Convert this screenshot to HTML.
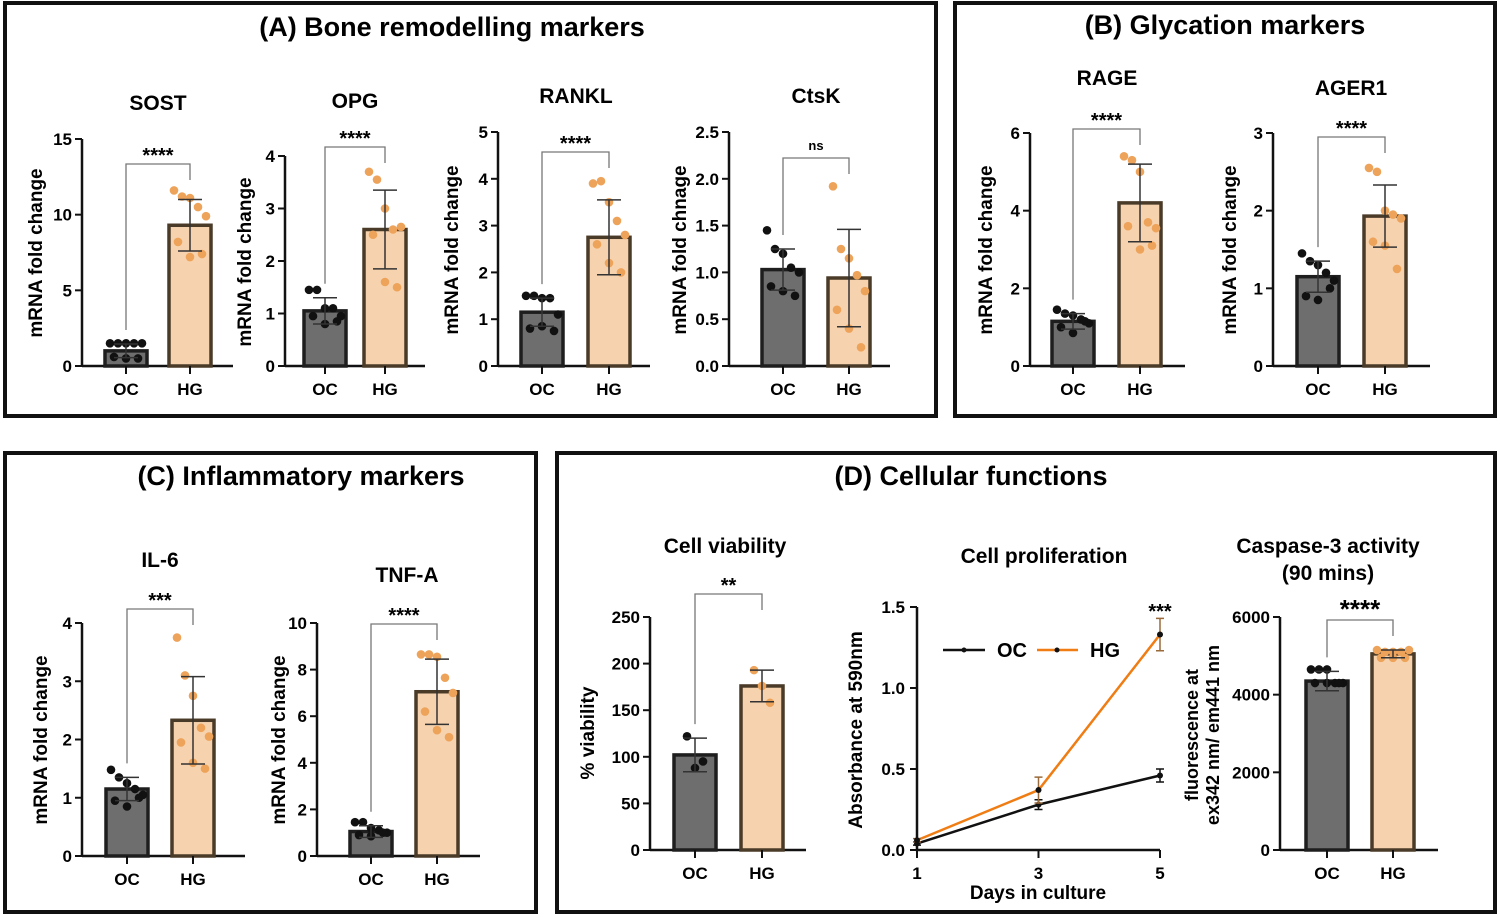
<!DOCTYPE html>
<html><head><meta charset="utf-8"><style>
body{margin:0;background:#fff;}
svg{display:block;font-family:"Liberation Sans",Arial,sans-serif;font-weight:bold;}
text{font-weight:bold;}
</style></head><body>
<svg id="fig" width="1500" height="918" viewBox="0 0 1500 918">
<rect x="5" y="3" width="931" height="413" fill="none" stroke="#111" stroke-width="4"/>
<rect x="955" y="3" width="540" height="413" fill="none" stroke="#111" stroke-width="4"/>
<rect x="5" y="453" width="531" height="459" fill="none" stroke="#111" stroke-width="4"/>
<rect x="557" y="453" width="938" height="459" fill="none" stroke="#111" stroke-width="4"/>
<text x="452" y="36" font-size="27" text-anchor="middle">(A) Bone remodelling markers</text>
<text x="1225" y="34" font-size="27" text-anchor="middle">(B) Glycation markers</text>
<text x="301" y="485" font-size="27" text-anchor="middle">(C) Inflammatory  markers</text>
<text x="971" y="485" font-size="27" text-anchor="middle">(D) Cellular functions</text>
</svg>
<script>
const NS="http://www.w3.org/2000/svg";
const svg=document.getElementById('fig');
function mk(tag,attrs,parent){const e=document.createElementNS(NS,tag);for(const k in attrs)e.setAttribute(k,attrs[k]);(parent||svg).appendChild(e);return e;}

// ---- data ----
const groups=["OC","HG"];
const sostMeans=[1.0,9.3], sostSD=[0.45,1.7];
const sostOC=[1.5,1.5,1.5,1.5,1.5,0.6,0.5,0.5], sostHG=[11.6,11.2,11.1,10.5,9.9,8.2,7.2,7.4];
const opgMeans=[1.05,2.6], opgSD=[0.25,0.75];
const opgOC=[1.45,1.45,1.1,1.1,0.95,0.95,0.8,0.85], opgHG=[3.7,3.55,3.0,2.6,2.65,2.5,1.6,1.5];
const ranklMeans=[1.15,2.75], ranklSD=[0.3,0.8];
const ranklOC=[1.5,1.5,1.45,1.45,1.1,0.8,0.85,0.75], ranklHG=[3.9,3.95,3.5,3.1,2.8,2.6,2.2,2.0];
const ctskMeans=[1.03,0.94], ctskSD=[0.22,0.52];
const ctskOC=[1.45,1.25,1.2,1.05,1.0,0.85,0.8,0.75], ctskHG=[1.92,1.25,1.15,0.97,0.8,0.6,0.4,0.2];
const rageMeans=[1.15,4.2], rageSD=[0.2,1.0];
const rageOC=[1.45,1.35,1.3,1.2,1.1,1.0,0.85,1.15], rageHG=[5.4,5.3,5.0,3.7,3.55,3.6,3.0,3.1];
const ager1Means=[1.15,1.93], ager1SD=[0.2,0.4];
const ager1OC=[1.45,1.35,1.3,1.2,1.1,0.9,0.85,1.0], ager1HG=[2.55,2.5,2.0,1.95,1.9,1.6,1.55,1.25];
const il6Means=[1.15,2.33], il6SD=[0.2,0.75];
const il6OC=[1.48,1.35,1.25,1.15,1.05,0.95,0.85,1.0], il6HG=[3.75,3.1,2.75,2.2,2.05,1.95,1.6,1.5];
const tnfMeans=[1.05,7.05], tnfSD=[0.25,1.4];
const tnfOC=[1.45,1.45,1.2,1.1,1.0,0.9,0.85,1.0], tnfHG=[8.65,8.65,8.55,7.65,7.0,6.2,5.4,5.1];
const viabMeans=[102,176], viabSD=[18,17];
const viabOC=[122,88,95], viabHG=[193,176,158];
const caspMeans=[4350,5050], caspSD=[250,100];
const caspOC=[4650,4650,4650,4300,4300,4300,4300,4300], caspHG=[5150,5100,5100,5100,5150,4950,4950,4950];
const days=[1,3,5];
const ocLine=[0.04,0.28,0.46], ocErr=[0.01,0.03,0.04];
const hgLine=[0.06,0.37,1.33], hgErr=[0.01,0.08,0.1];
const absTicks=[0,0.5,1.0,1.5], absTickLabels=["0.0","0.5","1.0","1.5"];

const jit=[-16,-8,0,8,16,-12,0,12];
function bar(c){
  const g=mk('g',{});
  
  
  const y=v=>c.y0-(v-c.min)/(c.max-c.min)*(c.y0-c.yTop);
  const xs=[c.cx0,c.cx1];const bw=c.bw||42;
  const ya=mk('line',{x1:c.ax,y1:c.y0,x2:c.ax,y2:c.yTop,stroke:'#111','stroke-width':2.5},g);
  
  const xa=mk('line',{x1:c.ax,y1:c.y0,x2:c.axEnd,y2:c.y0,stroke:'#111','stroke-width':2.5},g);
  
  c.ticks.forEach((t,i)=>{
    mk('line',{x1:c.ax-7,y1:y(t),x2:c.ax,y2:y(t),stroke:'#111','stroke-width':2},g);
    const tx=mk('text',{x:c.ax-10,y:y(t)+6,'font-size':17,'text-anchor':'end'},g);
    tx.textContent=c.tickLabels?c.tickLabels[i]:t;
    
  });
  groups.forEach((gname,i)=>{
    const m=c.means[i];
    const r=mk('rect',{x:xs[i]-bw/2,y:y(m),width:bw,height:c.y0-y(m),fill:i?'#f6d3ae':'#6e6e6e',stroke:i?'#4a3a28':'#1e1e1e','stroke-width':3.5},g);
    
    const pts=i?c.hg:c.oc;
    pts.forEach((p,j)=>{
      const d=mk('circle',{cx:xs[i]+(pts.length<5?[-8,0,8][j]:jit[j]),cy:y(p),r:4.3,fill:i?'#eea35a':'#111'},g);
      
    });
    const sd=c.sd[i];
    const e=mk('path',{d:`M${xs[i]},${y(m-sd)}V${y(m+sd)}M${xs[i]-12},${y(m+sd)}H${xs[i]+12}M${xs[i]-12},${y(m-sd)}H${xs[i]+12}`,stroke:'#333','stroke-width':1.5,fill:'none'},g);
    
    mk('line',{x1:xs[i],y1:c.y0,x2:xs[i],y2:c.y0+8,stroke:'#111','stroke-width':2},g);
    const xl=mk('text',{x:xs[i],y:c.y0+29,'font-size':17,'text-anchor':'middle'},g);
    xl.textContent=gname;
  });
  const br=mk('path',{d:`M${xs[0]},${y(c.means[0]+c.sd[0])-14}V${c.br}H${xs[1]}V${c.br+16}`,stroke:'#777','stroke-width':1.3,fill:'none'},g);
  
  const s=mk('text',{x:(xs[0]+xs[1])/2,y:c.br-(c.sig=='ns'?8:2),'font-size':c.sig=='ns'?13:(c.sigSize||20),'text-anchor':'middle'},g);
  if(c.sig=='ns')s.setAttribute('font-weight','normal');
  s.textContent=c.sig;
  const t=mk('text',{x:c.tx,y:c.ty,'font-size':21,'text-anchor':'middle'},g);
  t.textContent=c.title;
  if(c.title2){const t2=mk('text',{x:c.tx,y:c.ty+27,'font-size':21,'text-anchor':'middle'},g);t2.textContent=c.title2;}
  c.ylab.forEach((l,k)=>{
    const lx=c.lx+k*21;
    const a=mk('text',{x:lx,y:c.ly,'font-size':c.ylabSize||19,'text-anchor':'middle',transform:`rotate(-90 ${lx} ${c.ly})`},g);
    a.textContent=l;
  });
}
const MF=["mRNA fold change"];
bar({name:'sost',title:'SOST',tx:158,ty:110,ax:82,axEnd:233,y0:366,yTop:139,min:0,max:15,ticks:[0,5,10,15],cx0:126,cx1:190,means:sostMeans,sd:sostSD,oc:sostOC,hg:sostHG,sig:'****',br:164,lx:42,ly:253,ylab:MF});
bar({name:'opg',title:'OPG',tx:355,ty:108,ax:285,axEnd:425,y0:366,yTop:156,min:0,max:4,ticks:[0,1,2,3,4],cx0:325,cx1:385,means:opgMeans,sd:opgSD,oc:opgOC,hg:opgHG,sig:'****',br:147,lx:251,ly:262,ylab:MF});
bar({name:'rankl',title:'RANKL',tx:576,ty:103,ax:498,axEnd:650,y0:366,yTop:132,min:0,max:5,ticks:[0,1,2,3,4,5],cx0:542,cx1:609,means:ranklMeans,sd:ranklSD,oc:ranklOC,hg:ranklHG,sig:'****',br:152,lx:458,ly:250,ylab:MF});
bar({name:'ctsk',title:'CtsK',tx:816,ty:103,ax:729,axEnd:890,y0:366,yTop:132,min:0,max:2.5,ticks:[0,0.5,1,1.5,2,2.5],tickLabels:["0.0","0.5","1.0","1.5","2.0","2.5"],cx0:783,cx1:849,means:ctskMeans,sd:ctskSD,oc:ctskOC,hg:ctskHG,sig:'ns',br:158,lx:686,ly:250,ylab:["mRNA fold chnage"]});
bar({name:'rage',title:'RAGE',tx:1107,ty:85,ax:1030,axEnd:1185,y0:366,yTop:133,min:0,max:6,ticks:[0,2,4,6],cx0:1073,cx1:1140,means:rageMeans,sd:rageSD,oc:rageOC,hg:rageHG,sig:'****',br:129,lx:992,ly:250,ylab:MF});
bar({name:'ager1',title:'AGER1',tx:1351,ty:95,ax:1273,axEnd:1430,y0:366,yTop:133,min:0,max:3,ticks:[0,1,2,3],cx0:1318,cx1:1385,means:ager1Means,sd:ager1SD,oc:ager1OC,hg:ager1HG,sig:'****',br:137,lx:1236,ly:250,ylab:MF});
bar({name:'il6',title:'IL-6',tx:160,ty:567,ax:82,axEnd:245,y0:856,yTop:623,min:0,max:4,ticks:[0,1,2,3,4],cx0:127,cx1:193,means:il6Means,sd:il6SD,oc:il6OC,hg:il6HG,sig:'***',br:609,lx:47,ly:740,ylab:MF});
bar({name:'tnfa',title:'TNF-A',tx:407,ty:582,ax:317,axEnd:480,y0:856,yTop:623,min:0,max:10,ticks:[0,2,4,6,8,10],cx0:371,cx1:437,means:tnfMeans,sd:tnfSD,oc:tnfOC,hg:tnfHG,sig:'****',br:624,lx:285,ly:740,ylab:MF});
bar({name:'viability',title:'Cell viability',tx:725,ty:553,ax:650,axEnd:806,y0:850,yTop:617,min:0,max:250,ticks:[0,50,100,150,200,250],cx0:695,cx1:762,means:viabMeans,sd:viabSD,oc:viabOC,hg:viabHG,sig:'**',br:594,lx:594,ly:733,ylab:["% viability"]});
bar({name:'caspase',title:'Caspase-3 activity',title2:'(90 mins)',tx:1328,ty:553,ax:1280,axEnd:1438,y0:850,yTop:617,min:0,max:6000,ticks:[0,2000,4000,6000],cx0:1327,cx1:1393,means:caspMeans,sd:caspSD,oc:caspOC,hg:caspHG,sig:'****',sigSize:26,br:620,lx:1198,ly:735,ylabSize:18,ylab:["fluorescence at","ex342 nm/ em441 nm"]});

// line chart
(function(){
  const g=mk('g',{});
  
  
  const x=d=>917+(d-1)/4*243, y=v=>850-v/1.5*243;
  const ax=mk('path',{d:`M917,${y(1.5)}V850H1160`,stroke:'#111','stroke-width':2.5,fill:'none'},g);
  
  absTicks.forEach((t,i)=>{mk('line',{x1:910,y1:y(t),x2:917,y2:y(t),stroke:'#111','stroke-width':2},g);
    const tx=mk('text',{x:905,y:y(t)+6,'font-size':17,'text-anchor':'end'},g);tx.textContent=absTickLabels[i];
    });
  days.forEach(d=>{mk('line',{x1:x(d),y1:850,x2:x(d),y2:858,stroke:'#111','stroke-width':2},g);
    const tx=mk('text',{x:x(d),y:879,'font-size':17,'text-anchor':'middle'},g);tx.textContent=d;
    });
  [[ocLine,ocErr,'#111','oc'],[hgLine,hgErr,'#ef7d14','hg']].forEach(([vals,err,col,n])=>{
    const p=mk('polyline',{points:vals.map((v,i)=>x(days[i])+','+y(v)).join(' '),stroke:col,'stroke-width':2.5,fill:'none'},g);
    
    vals.forEach((v,i)=>{const cx=x(days[i]);
      const e=mk('path',{d:`M${cx},${y(v-err[i])}V${y(v+err[i])}M${cx-4},${y(v+err[i])}H${cx+4}M${cx-4},${y(v-err[i])}H${cx+4}`,stroke:n=='hg'?'#9a6a3a':'#111','stroke-width':1.5,fill:'none'},g);
      
      const c=mk('circle',{cx:cx,cy:y(v),r:3,fill:'#111'},g);
      });
  });
  const l1=mk('line',{x1:943,y1:650,x2:985,y2:650,stroke:'#111','stroke-width':2.5},g);
  mk('circle',{cx:964,cy:650,r:2.5,fill:'#111'},g);
  const lt1=mk('text',{x:997,y:657,'font-size':20,'font-weight':'normal'},g);lt1.textContent='OC';
  const l2=mk('line',{x1:1037,y1:650,x2:1078,y2:650,stroke:'#ef7d14','stroke-width':2.5},g);
  mk('circle',{cx:1057,cy:650,r:2.5,fill:'#111'},g);
  const lt2=mk('text',{x:1090,y:657,'font-size':20,'font-weight':'normal'},g);lt2.textContent='HG';
  const st=mk('text',{x:1160,y:618,'font-size':20,'text-anchor':'middle'},g);st.textContent='***';
  const tt=mk('text',{x:1044,y:563,'font-size':21,'text-anchor':'middle'},g);tt.textContent='Cell proliferation';
  const xt=mk('text',{x:1038,y:899,'font-size':19,'text-anchor':'middle'},g);xt.textContent='Days in culture';
  const yt=mk('text',{x:862,y:730,'font-size':19,'text-anchor':'middle',transform:'rotate(-90 862 730)'},g);yt.textContent='Absorbance at 590nm';
})();
</script>
</body></html>
